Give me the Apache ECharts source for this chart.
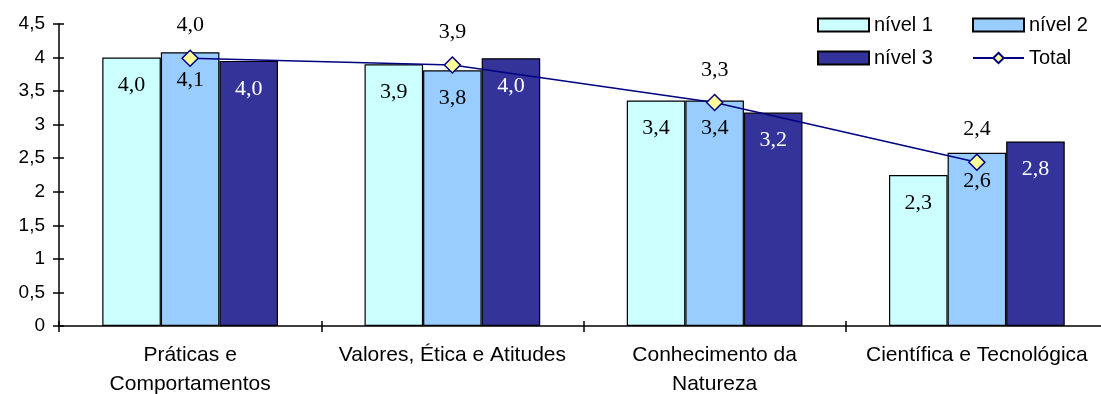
<!DOCTYPE html>
<html>
<head>
<meta charset="utf-8">
<script src="https://cdn.jsdelivr.net/npm/echarts@6/dist/echarts.min.js"></script>
<style>
  html, body { margin: 0; padding: 0; background: #fff; }
  #chart { width: 1101px; height: 394px; }
</style>
</head>
<body>
<div id="chart"></div>
<script>
// Mean scores by dimension and level
const categories = [
  'Práticas e\nComportamentos',
  'Valores, Ética e Atitudes',
  'Conhecimento da\nNatureza',
  'Científica e Tecnológica'
];
const nivel1 = [4.0, 3.90, 3.36, 2.25];
const nivel2 = [4.08, 3.81, 3.36, 2.58];
const nivel3 = [3.95, 3.99, 3.18, 2.75];
const total = [3.99, 3.89, 3.33, 2.44];
const yTicks = [0, 0.5, 1, 1.5, 2, 2.5, 3, 3.5, 4, 4.5];

const comma = v => String(v).replace('.', ',');
const oneDec = v => v.toFixed(1).replace('.', ',');

const sans = 'Liberation Sans, Arial, sans-serif';
const serif = 'Liberation Serif, Times New Roman, serif';

function barSeries(name, data, color, labelColor) {
  return {
    name, type: 'bar', data,
    barGap: '0%', barCategoryGap: '33%',
    itemStyle: { color, borderColor: '#000', borderWidth: 1.2 },
    label: {
      show: true, position: 'insideTop', distance: 17,
      formatter: p => oneDec(p.value),
      fontFamily: serif, fontSize: 22, color: labelColor
    },
    z: 2
  };
}

const legendBase = {
  orient: 'vertical', top: 10,
  itemWidth: 51, itemHeight: 13, itemGap: 13,
  textStyle: { fontFamily: sans, fontSize: 20, color: '#000' }
};

const chart = echarts.init(document.getElementById('chart'), null, { renderer: 'canvas' });
chart.setOption({
  animation: false,
  backgroundColor: '#fff',
  grid: { left: 59, top: 24, right: -7, bottom: 68, containLabel: false, outerBoundsMode: 'none' },
  legend: [
    Object.assign({}, legendBase, {
      left: 812,
      data: [{ name: 'nível 1', icon: 'rect' }, { name: 'nível 3', icon: 'rect' }]
    }),
    Object.assign({}, legendBase, {
      left: 967,
      data: [{ name: 'nível 2', icon: 'rect' }, 'Total']
    })
  ],
  xAxis: [
    {
      type: 'category', data: categories,
      axisLine: { lineStyle: { color: '#000', width: 1.5 } },
      axisTick: { show: true, inside: false, length: 6, lineStyle: { color: '#000', width: 1.5 } },
      axisLabel: { fontFamily: sans, fontSize: 21, color: '#000', margin: 15, lineHeight: 29, interval: 0 }
    },
    {
      type: 'category', data: categories, position: 'bottom',
      axisLine: { show: false },
      axisTick: { show: true, inside: true, length: 5, lineStyle: { color: '#000', width: 1.5 } },
      axisLabel: { show: false }
    }
  ],
  yAxis: [
    {
      type: 'value', min: 0, max: 4.5, interval: 0.5,
      axisLine: { show: true, lineStyle: { color: '#000', width: 1.5 } },
      axisTick: { show: true, length: 6, lineStyle: { color: '#000', width: 1.5 } },
      axisLabel: {
        fontFamily: sans, fontSize: 19, color: '#000', margin: 14,
        formatter: v => yTicks.includes(v) ? comma(v) : ''
      },
      splitLine: { show: false }
    },
    {
      type: 'value', min: 0, max: 4.5, interval: 0.5, position: 'left',
      axisLine: { show: false },
      axisTick: { show: true, inside: true, length: 5, lineStyle: { color: '#000', width: 1.5 } },
      axisLabel: { show: false },
      splitLine: { show: false }
    }
  ],
  series: [
    barSeries('nível 1', nivel1, '#CCFFFF', '#000'),
    barSeries('nível 2', nivel2, '#99CCFF', '#000'),
    barSeries('nível 3', nivel3, '#333399', '#fff'),
    {
      name: 'Total', type: 'line', data: total,
      symbol: 'diamond', symbolSize: 16,
      lineStyle: { color: '#000080', width: 1.5 },
      itemStyle: { color: '#FFFF99', borderColor: '#000080', borderWidth: 1.5 },
      label: {
        show: true, position: 'top', distance: 13,
        formatter: p => oneDec(p.value),
        fontFamily: serif, fontSize: 22, color: '#000'
      },
      z: 5
    }
  ]
});
</script>
</body>
</html>
